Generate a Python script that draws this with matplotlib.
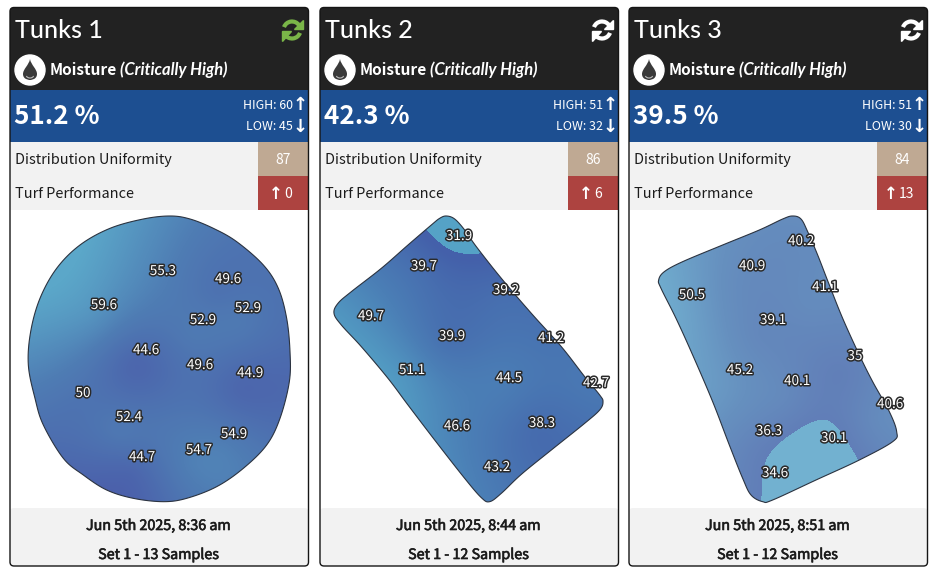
import numpy as np
import matplotlib
matplotlib.use("Agg")
import matplotlib.pyplot as plt
import matplotlib.patheffects as pe
from matplotlib.patches import Rectangle, FancyBboxPatch, Circle, Polygon, PathPatch, Arc
from matplotlib.path import Path
from matplotlib.colors import LinearSegmentedColormap

TITLES = ["Tunks 1", "Tunks 2", "Tunks 3"]
AVERAGES = ["51.2 %", "42.3 %", "39.5 %"]
HIGHS = [60, 51, 51]
LOWS = [45, 32, 30]
UNIFORMITY = [87, 86, 84]
TURF = [0, 6, 13]
TIMES = ["Jun 5th 2025, 8:36 am", "Jun 5th 2025, 8:44 am", "Jun 5th 2025, 8:51 am"]
SETS = ["Set 1 - 13 Samples", "Set 1 - 12 Samples", "Set 1 - 12 Samples"]
OFFSETS = [0, 310, 619]

VALUES_1 = [55.3, 49.6, 59.6, 52.9, 52.9, 44.6, 49.6, 44.9, 50, 52.4, 54.9, 54.7, 44.7]
X_1 = [163, 228, 104, 248, 203, 146, 200, 250, 83, 129, 234, 199, 142]
Y_1 = [270, 278, 304, 307, 319, 349, 364, 372, 392, 416, 433, 449, 456]
VALUES_2 = [31.9, 39.7, 39.2, 49.7, 39.9, 41.2, 51.1, 44.5, 42.7, 46.6, 38.3, 43.2]
X_2 = [459, 424, 506, 371, 452, 551, 412, 509, 596, 457, 542, 497]
Y_2 = [235, 265, 289, 315, 335, 337, 369, 377, 382, 425, 422, 466]
VALUES_3 = [40.2, 40.9, 41.1, 50.5, 39.1, 35, 45.2, 40.1, 40.6, 36.3, 30.1, 34.6]
X_3 = [801, 752, 825, 692, 773, 855, 740, 797, 890, 769, 834, 775]
Y_3 = [240, 265, 286, 294, 319, 355, 369, 380, 403, 430, 437, 472]

OUTLINE_1 = [(510,33),(570,42),(640,70),(710,110),(790,180),(835,250),(860,340),(870,440),(868,530),(840,640),(800,720),(730,790),(650,845),(560,880),(490,890),(400,880),(320,855),(250,810),(190,760),(130,660),(105,580),(85,480),(92,380),(120,280),(170,190),(240,120),(330,70),(430,42)]
OUTLINE_2 = [(385,33),(410,42),(440,75),(475,125),(550,220),(640,325),(730,425),(800,515),(845,570),(855,590),(845,615),(800,655),(700,735),(610,808),(550,865),(515,890),(490,878),(440,820),(350,705),(270,600),(210,520),(130,425),(70,360),(48,325),(60,295),(100,260),(190,190),(270,120),(340,60),(365,40)]
OUTLINE_3 = [(500,33),(525,42),(545,80),(575,150),(610,240),(650,340),(700,450),(740,530),(790,620),(812,680),(800,710),(700,765),(570,825),(440,885),(410,890),(375,870),(350,820),(310,720),(260,590),(200,450),(150,340),(105,250),(98,225),(115,200),(170,170),(290,120),(400,75),(470,42)]
OUTLINE_ORIGINS = [(0, 205), (318, 205), (626, 205)]

FIELD_SHIFT = [(-10, 16), (-6, 6), (-14, 18)]
RANGES = [(42, 66), (34, 56), (32, 54)]
LOW_CUT = [None, 33.4, 34.4]
LOW_COLOR = [None, "#55a2c6", "#72b1d0"]
MAPS = [["#4b5fab", "#4f7db4", "#5ba7c9"], ["#4460aa", "#4b7fb6", "#55a5c7"], ["#6079b6", "#6690bf", "#72b2d1"]]

SERIES = [(X_1, Y_1, VALUES_1), (X_2, Y_2, VALUES_2), (X_3, Y_3, VALUES_3)]
OUTLINES = [OUTLINE_1, OUTLINE_2, OUTLINE_3]

BODY = ["Noto Sans CJK SC", "DejaVu Sans"]
ITALIC = ["Lato", "DejaVu Sans"]
DARK, BLUE, GREY = "#222222", "#1d4f91", "#f2f2f2"
TAN, RED = "#bfa993", "#ad4340"
INK = "#1c1c1c"

fig = plt.figure(figsize=(9.34, 5.82), dpi=100, facecolor="white")
ax = fig.add_axes([0, 0, 1, 1])
PX = 0.72


def smooth(points, steps=10):
    """Closed Catmull-Rom curve through the outline's control points."""
    p = np.asarray(points, float)
    t = np.linspace(0, 1, steps, endpoint=False)[:, None]
    out = []
    for i in range(len(p)):
        a, b, c, d = p[i - 1], p[i], p[(i + 1) % len(p)], p[(i + 2) % len(p)]
        out.append(0.5 * (2 * b + (c - a) * t + (2 * a - 5 * b + 4 * c - d) * t ** 2
                          + (3 * b - a - 3 * c + d) * t ** 3))
    return np.vstack(out)


def surface(xs, ys, vals, x0, x1, y0, y1):
    """Thin-plate surface through the samples."""
    P = np.column_stack([xs, ys]).astype(float)
    v = np.asarray(vals, float)
    n = len(v)
    c = P.mean(0)
    s = 100.0
    Q = (P - c) / s

    def U(r):
        return np.where(r > 0, r ** 2 * np.log(r + 1e-12), 0.0)

    K = U(np.hypot(Q[:, None, 0] - Q[None, :, 0], Q[:, None, 1] - Q[None, :, 1])) + 0.02 * np.eye(n)
    A = np.column_stack([np.ones(n), Q])
    M = np.block([[K, A], [A.T, np.zeros((3, 3))]])
    sol = np.linalg.solve(M, np.r_[v, 0, 0, 0])
    gx, gy = np.meshgrid((np.arange(x0, x1) + .5 - c[0]) / s, (np.arange(y0, y1) + .5 - c[1]) / s)
    r = np.hypot(gx[..., None] - Q[:, 0], gy[..., None] - Q[:, 1])
    return (U(r) * sol[:n]).sum(-1) + sol[n] + sol[n + 1] * gx + sol[n + 2] * gy


def refresh_icon(cx, cy, color):
    for start in (200, 20):
        ax.add_patch(Arc((cx, cy), 17, 17, theta1=start, theta2=start + 125, color=color, lw=3.0, zorder=5))
    ax.add_patch(Polygon([(cx + 10.5, cy - 10.5), (cx + 10.5, cy - 1), (cx + 1.5, cy - 1)], color=color, zorder=5))
    ax.add_patch(Polygon([(cx - 10.5, cy + 10.5), (cx - 10.5, cy + 1), (cx - 1.5, cy + 1)], color=color, zorder=5))


def drop_icon(cx, cy):
    ax.add_patch(Circle((cx, cy), 15, color="white", zorder=4))
    verts = [(cx, cy - 11), (cx - 1, cy - 5), (cx - 7, cy - 1), (cx - 7, cy + 4),
             (cx - 7, cy + 10), (cx, cy + 10), (cx, cy + 10),
             (cx, cy + 10), (cx + 7, cy + 10), (cx + 7, cy + 4),
             (cx + 7, cy - 1), (cx + 1, cy - 5), (cx, cy - 11)]
    codes = [Path.MOVETO] + [Path.CURVE4] * 12
    ax.add_patch(PathPatch(Path(verts, codes), fc="#3a3a3a", ec="none", zorder=5))
    ax.add_patch(Arc((cx, cy + 3.5), 9, 9, theta1=35, theta2=145, color="#bbbbbb", lw=0.8, zorder=6))


for k in range(3):
    o = OFFSETS[k]
    L, R = 10 + o, 308.5 + o
    box = FancyBboxPatch((L, 7.5), R - L, 558.5, boxstyle="round,pad=0,rounding_size=4",
                         fc="white", ec="none", zorder=0)
    ax.add_patch(box)
    for (y0, y1, xa, xb, col) in [(7.5, 90, L, R, DARK), (90, 142, L, R, BLUE),
                                  (142, 210, L, 258 + o, GREY), (142, 176, 258 + o, R, TAN),
                                  (176, 210, 258 + o, R, RED)]:
        ax.add_patch(Rectangle((xa, y0), xb - xa, y1 - y0, fc=col, ec="none", zorder=1, clip_path=box))
    foot = FancyBboxPatch((L, 508), R - L, 60, boxstyle="round,pad=0,rounding_size=4",
                          fc=GREY, ec="none", zorder=1)
    ax.add_patch(foot)
    foot.set_clip_path(box)

    # heat surface
    xs, ys, vals = SERIES[k]
    ox, oy = OUTLINE_ORIGINS[k]
    pts = smooth([(ox + a / 3, oy + b / 3) for a, b in OUTLINES[k]])
    x0, x1, y0, y1 = int(pts[:, 0].min()) - 2, int(pts[:, 0].max()) + 3, int(pts[:, 1].min()) - 2, int(pts[:, 1].max()) + 3
    dx, dy = FIELD_SHIFT[k]
    z = surface(np.array(xs) + dx, np.array(ys) + dy, vals, x0, x1, y0, y1)
    cmap = LinearSegmentedColormap.from_list("m", MAPS[k])
    vmin, vmax = RANGES[k]
    rgba = cmap(np.clip((z - vmin) / (vmax - vmin), 0, 1))
    if LOW_CUT[k] is not None:
        rgba[z < LOW_CUT[k]] = matplotlib.colors.to_rgba(LOW_COLOR[k])
    im = ax.imshow(rgba, extent=(x0, x1, y1, y0), interpolation="bilinear", aspect="auto", zorder=2)
    shape = Polygon(pts, closed=True, fc="none", ec="#2b3340", lw=0.8, zorder=3)
    ax.add_patch(shape)
    im.set_clip_path(shape)

    for x, y, v in zip(xs, ys, vals):
        ax.text(x, y + 1, f"{v:g}", ha="center", va="center", fontsize=13.5 * PX, color="white", family=BODY,
                fontweight="medium", zorder=6,
                path_effects=[pe.withStroke(linewidth=2.2, foreground="#2a2a2a")])

    # header
    ax.text(15 + o, 30, TITLES[k], fontsize=25 * PX, color="white", family=["Lato", "DejaVu Sans"],
            fontweight="medium", ha="left", va="center", zorder=5)
    refresh_icon(292 + o, 30, "#7ab648" if k == 0 else "white")
    drop_icon(30 + o, 70)
    ax.text(50 + o, 70, "Moisture", fontsize=15.5 * PX, color="white", family=BODY, fontweight="bold",
            ha="left", va="center", zorder=5)
    ax.text(120 + o, 70, "(Critically High)", fontsize=16.5 * PX, color="white", family=ITALIC,
            fontweight="bold", style="italic", ha="left", va="center", zorder=5)

    ax.text(14 + o, 116.5, AVERAGES[k], fontsize=26 * PX, color="white", family=BODY, fontweight="bold",
            ha="left", va="center", zorder=5)
    ax.text(293 + o, 105.5, f"HIGH: {HIGHS[k]}", fontsize=12.4 * PX, color="white", family=BODY,
            ha="right", va="center", zorder=5)
    ax.text(293 + o, 127, f"LOW: {LOWS[k]}", fontsize=12.4 * PX, color="white", family=BODY,
            ha="right", va="center", zorder=5)
    ax.text(300.5 + o, 105, "\u2191", fontsize=18 * PX, color="white", family="DejaVu Sans", fontweight="bold",
            ha="center", va="center", zorder=5)
    ax.text(300.5 + o, 126.5, "\u2193", fontsize=18 * PX, color="white", family="DejaVu Sans", fontweight="bold",
            ha="center", va="center", zorder=5)

    ax.text(15 + o, 160, "Distribution Uniformity", fontsize=14.5 * PX, color=INK, family=BODY,
            ha="left", va="center", zorder=5)
    ax.text(15 + o, 194, "Turf Performance", fontsize=14.5 * PX, color=INK, family=BODY,
            ha="left", va="center", zorder=5)
    ax.text(283 + o, 160.5, f"{UNIFORMITY[k]}", fontsize=14 * PX, color="white", family=BODY,
            ha="center", va="center", zorder=5)
    wide = TURF[k] >= 10
    ax.text((280 if wide else 284) + o, 194.5, f"{TURF[k]}", fontsize=14 * PX, color="white", family=BODY,
            ha="left", va="center", zorder=5)
    ax.text((272 if wide else 276) + o, 194, "\u2191", fontsize=16.5 * PX, color="white", family="DejaVu Sans",
            fontweight="bold", ha="center", va="center", zorder=5)

    for y, s in ((526, TIMES[k]), (555, SETS[k])):
        ax.text(158.5 + o, y, s, fontsize=14.3 * PX, color=INK, family=BODY, ha="center", va="center", zorder=5,
                path_effects=[pe.withStroke(linewidth=0.45, foreground=INK)])

    ax.add_patch(FancyBboxPatch((L, 7.5), R - L, 558.5, boxstyle="round,pad=0,rounding_size=4",
                                fc="none", ec="#151515", lw=1.0, zorder=7))

ax.set_xlim(0, 934)
ax.set_ylim(582, 0)
ax.axis("off")
fig.savefig("out.png", dpi=100, facecolor="white")
